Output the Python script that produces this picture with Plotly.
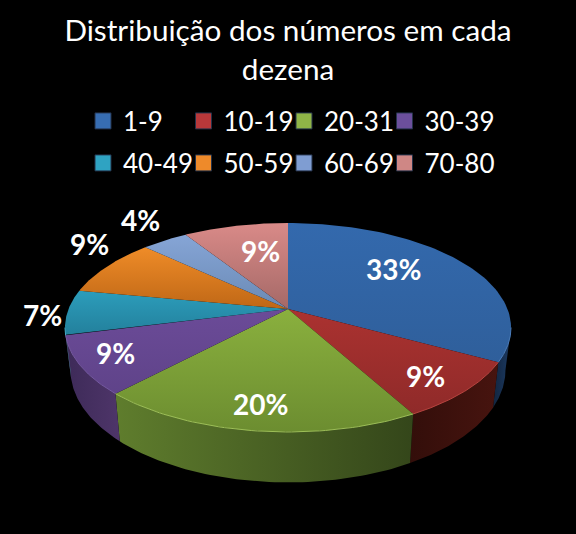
import numpy as np
import plotly.graph_objects as go

# Dados do grafico
categorias = ["1-9", "10-19", "20-31", "30-39", "40-49", "50-59", "60-69", "70-80"]
valores = [33, 9, 20, 9, 7, 9, 4, 9]
titulo = "Distribuição dos números em cada<br>dezena"

# Cores: topo (de baixo para cima) e lateral (da esquerda para a direita)
cores_topo = [
    ("#2f5f9b", "#3369ad"), ("#8f2a29", "#ab3230"), ("#6c8d30", "#8ab03e"),
    ("#5f4389", "#6b4b98"), ("#23809c", "#2c9dbb"), ("#bf6716", "#ef8c28"),
    ("#6a8ab5", "#86a5d6"), ("#a56967", "#d98a88"),
]
cores_lado = [
    ("#12253f", "#1c3a62"), ("#330e0a", "#47140f"), ("#5f7d2d", "#34461a"),
    ("#3d2a58", "#4e3569"), ("#3d6f80", "#3d6f80"), ("#333", "#333"),
    ("#333", "#333"), ("#333", "#333"),
]
cores_borda = ["#4a7cba", "#b8443f", "#9dbf58", "#765aa2",
               "#45aac6", "#f09a44", "#98b4de", "#e09c9a"]
cores_legenda = ["#376db2", "#b8383a", "#8fb447", "#6b4f9c",
                 "#2fa3c2", "#ee8a2a", "#7f9dd2", "#cf8785"]

# Posicao dos rotulos e da legenda, em pixels
pos_rotulos = [(393, 269), (425, 376), (260, 404), (115, 353),
               (42, 315), (89, 244), (140, 220), (260, 251)]
col_legenda = [83, 183.5, 284, 384.5]
lin_legenda = [121, 163]

# Geometria da pizza em perspectiva
X0, Y0 = 288, 309
RX, RY, K = 219.5, 101.2, 0.177
ALTURA = 41.5
RECUO = 0.975


def projeta(ang, base=False):
    u, v = np.sin(ang), np.cos(ang)
    w = 1 + K * v
    x = RX * u / w
    y = RY * v / w
    if base:
        return X0 + x * RECUO, Y0 - y + ALTURA / w
    return X0 + x, Y0 - y


fig = go.Figure()

limites = np.cumsum([0] + valores) / sum(valores) * 2 * np.pi
silhueta = np.arccos(-K)

# Laterais primeiro
for i in range(len(valores)):
    ini = max(limites[i], silhueta)
    fim = min(limites[i + 1], 2 * np.pi - silhueta)
    if fim <= ini:
        continue
    angs = np.linspace(ini, fim, 60)
    xt, yt = projeta(angs)
    xb, yb = projeta(angs, base=True)
    fig.add_trace(go.Scatter(
        x=np.r_[xt, xb[::-1]], y=np.r_[yt, yb[::-1]],
        mode="lines", line=dict(width=0), fill="toself",
        fillgradient=dict(type="horizontal",
                          colorscale=[[0, cores_lado[i][0]], [1, cores_lado[i][1]]]),
        showlegend=False, hoverinfo="skip",
    ))

# Topo
for i, cat in enumerate(categorias):
    angs = np.linspace(limites[i], limites[i + 1], 80)
    xt, yt = projeta(angs)
    fig.add_trace(go.Scatter(
        x=np.r_[X0, xt, X0], y=np.r_[Y0, yt, Y0],
        mode="lines", line=dict(width=0), fill="toself",
        fillgradient=dict(type="vertical",
                          colorscale=[[0, cores_topo[i][0]], [1, cores_topo[i][1]]]),
        name=cat, showlegend=False, hoverinfo="name",
    ))

# Filete claro na borda da frente
for i in range(len(valores)):
    ini = max(limites[i], silhueta)
    fim = min(limites[i + 1], 2 * np.pi - silhueta)
    if fim <= ini:
        continue
    xt, yt = projeta(np.linspace(ini, fim, 60))
    fig.add_trace(go.Scatter(x=xt, y=yt, mode="lines", showlegend=False, hoverinfo="skip",
                             line=dict(color=cores_borda[i], width=1)))

# Legenda: uma caixa para cada item, para manter a grade da original
caixas = {}
for i, cat in enumerate(categorias):
    nome = "legend" if i == 0 else f"legend{i + 1}"
    fig.add_trace(go.Scatter(
        x=[None], y=[None], mode="markers", name=cat, legend=nome,
        marker=dict(symbol="square", size=17, color=cores_legenda[i],
                    line=dict(color="#24324a", width=1)),
    ))
    caixas[nome] = dict(
        xanchor="left", yanchor="middle", itemwidth=30,
        x=col_legenda[i % 4] / 576, y=1 - lin_legenda[i // 4] / 534,
        bgcolor="rgba(0,0,0,0)", font=dict(family="Lato", size=26, color="white"),
    )

# Rotulos
for v, (x, y) in zip(valores, pos_rotulos):
    fig.add_annotation(x=x, y=y, text=f"<b>{v}%</b>", showarrow=False,
                       font=dict(family="Lato", size=28, color="white"))

fig.update_layout(
    width=576, height=534,
    margin=dict(l=0, r=0, t=0, b=0),
    paper_bgcolor="black", plot_bgcolor="black",
    title=dict(text=titulo, x=0.5, xanchor="center", y=1 - 41 / 534, yanchor="middle",
               font=dict(family="Lato", size=29.7, color="white")),
    xaxis=dict(range=[0, 576], visible=False, fixedrange=True),
    yaxis=dict(range=[534, 0], visible=False, fixedrange=True),
    **caixas,
)

fig.write_html("out.html", config=dict(displayModeBar=False),
               post_script="document.body.style.margin='0';")
